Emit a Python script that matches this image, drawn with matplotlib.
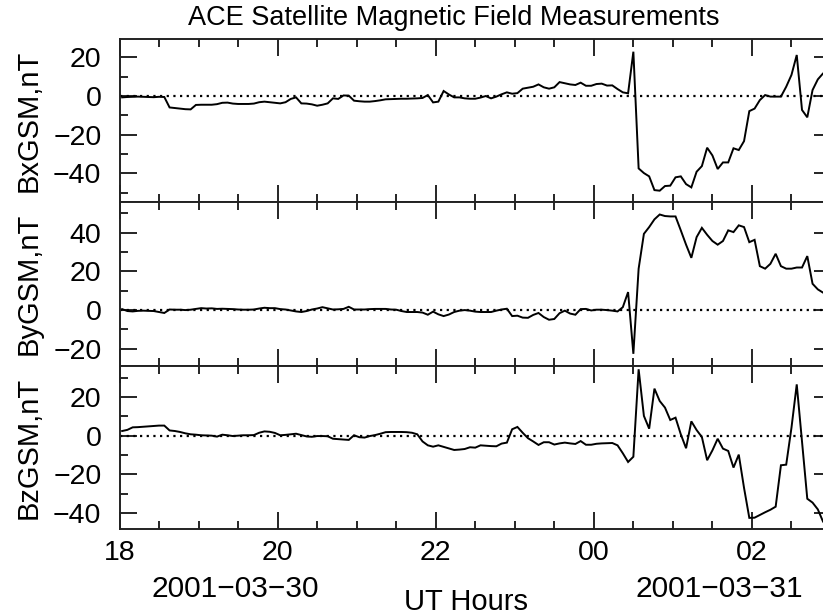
import numpy as np
import pandas as pd
import matplotlib
matplotlib.use("Agg")
import matplotlib.pyplot as plt
import matplotlib.dates as mdates
from matplotlib.ticker import MultipleLocator

plt.rcParams['font.family'] = ['Liberation Sans', 'DejaVu Sans']

# 4-minute samples starting 2001-03-30 18:02 UT
times = pd.date_range('2001-03-30 18:02', periods=135, freq='4min')

bx = [-0.7, -0.5, -0.4, -0.3, -0.4, -0.5, -0.6, -0.4, -0.5, -5.9,
      -6.2, -6.5, -6.8, -6.9, -4.6, -4.5, -4.5, -4.5, -4.2, -3.5,
      -3.4, -3.9, -4.1, -4.1, -4.1, -3.9, -3.2, -2.9, -3.2, -3.5,
      -3.8, -3.2, -1.5, -0.7, -3.8, -3.9, -4.3, -5.0, -4.5, -3.8,
      -1.2, -1.5, 0.3, 0.2, -2.4, -2.7, -2.9, -2.9, -2.6, -2.2,
      -1.7, -1.6, -1.5, -1.4, -1.4, -1.3, -1.2, -1.0, 0.5, -3.3,
      -2.9, 2.6, 0.8, -0.7, -0.7, -1.2, -1.4, -1.4, -0.8, 0.0,
      -1.2, -0.3, 0.9, 1.9, 1.2, 1.5, 3.8, 4.3, 4.8, 6.0,
      4.5, 3.8, 4.5, 7.2, 6.6, 6.0, 5.7, 6.9, 5.3, 5.3,
      6.2, 6.4, 5.4, 5.5, 3.6, 1.9, 1.4, 22.9, -37.4, -39.8,
      -41.5, -48.6, -48.9, -46.5, -46.3, -42.0, -41.5, -45.5, -47.2, -39.1,
      -36.2, -26.7, -30.7, -37.7, -34.3, -34.3, -27.0, -27.9, -23.3, -7.8,
      -6.5, -2.1, 0.5, -0.3, -0.3, -0.3, 4.8, 10.9, 21.2, -7.2,
      -11.0, 3.1, 8.6, 11.7, 12.5]

by = [0.5, -0.5, -0.7, -0.4, -0.3, -0.4, -0.5, -1.0, -1.5, 0.3,
      0.2, 0.2, 0.0, 0.2, 0.6, 1.0, 0.8, 0.9, 0.6, 0.7,
      0.6, 0.5, 0.3, 0.2, 0.2, 0.3, 0.8, 1.2, 1.0, 1.0,
      0.5, 0.3, -0.2, -0.7, -1.0, -0.5, 0.3, 0.8, 1.5, 0.9,
      0.3, 0.4, 0.6, 1.7, 0.3, 0.3, 0.3, 0.5, 0.6, 0.6,
      0.6, 0.3, 0.2, -0.5, -1.0, -1.0, -1.0, -1.3, -2.4, -0.8,
      -2.2, -3.1, -2.3, -1.0, -0.3, 0.0, -0.3, -0.8, -1.0, -1.0,
      -1.0, -0.3, 0.3, 0.7, -3.1, -2.9, -3.9, -4.0, -2.5, -1.5,
      -3.6, -5.0, -4.6, -1.6, -0.3, -1.8, -2.4, 0.5, 0.6, -0.2,
      0.2, 0.2, 0.0, -0.3, -0.7, 1.5, 9.3, -22.6, 21.4, 39.4,
      42.9, 46.9, 49.4, 48.6, 48.4, 48.4, 41.2, 33.8, 27.0, 37.7,
      42.5, 38.9, 35.7, 33.8, 35.7, 41.2, 40.3, 43.8, 42.9, 35.1,
      36.3, 22.7, 21.4, 23.9, 29.1, 22.7, 21.4, 21.4, 22.0, 22.0,
      27.9, 13.6, 10.7, 9.0, 8.5]

bz = [2.4, 3.0, 4.3, 4.4, 4.6, 4.8, 5.0, 5.2, 5.2, 2.7,
      2.4, 1.9, 1.2, 0.7, 0.5, 0.2, 0.1, 0.0, -0.5, 0.5,
      0.2, -0.2, 0.0, 0.2, 0.2, 0.3, 1.5, 2.2, 2.0, 1.4,
      0.2, 0.4, 0.7, 1.0, 0.3, -0.4, -0.6, -0.2, -0.2, -0.3,
      -1.6, -1.8, -2.0, -2.2, 0.2, -0.8, -1.0, -0.2, 0.3, 1.0,
      1.8, 1.9, 1.9, 1.9, 1.8, 1.5, 0.7, -3.0, -5.0, -5.7,
      -5.0, -5.8, -6.6, -7.4, -7.2, -6.9, -6.0, -6.2, -5.0, -5.2,
      -5.4, -5.5, -4.1, -3.6, 3.3, 4.5, 1.5, -1.3, -3.0, -4.8,
      -3.4, -3.4, -4.6, -4.0, -3.6, -4.0, -4.3, -2.8, -4.7, -4.7,
      -4.2, -4.0, -3.9, -3.8, -5.0, -9.1, -13.6, -10.9, 34.3, 10.2,
      3.6, 24.3, 17.9, 14.5, 8.1, 9.3, 0.7, -6.5, 7.4, 2.9,
      -0.7, -12.7, -7.6, -1.6, -6.7, -7.9, -16.5, -9.8, -27.0, -42.5,
      -42.4, -41.0, -39.6, -38.3, -36.7, -15.3, -15.0, 4.1, 26.5, -3.0,
      -32.6, -34.6, -38.1, -44.5, -47.0]

series = [bx, by, bz]
ylabels = ['BxGSM,nT', 'ByGSM,nT', 'BzGSM,nT']
ylims = [(-55.0, 29.2), (-28.9, 55.6), (-48.4, 36.0)]
xstart = pd.Timestamp('2001-03-30 18:00')
xend = pd.Timestamp('2001-03-31 03:00')
date_labels = ['2001\u221203\u221230', '2001\u221203\u221231']

W, H = 823, 616
fig = plt.figure(figsize=(W / 100, H / 100), dpi=100)

left = 119.5 / W
width = 711.5 / W
bounds = [(39.5, 202.5), (202.5, 366.0), (366.0, 529.3)]

axes = []
for i, (top, bot) in enumerate(bounds):
    ax = fig.add_axes([left, 1 - bot / H, width, (bot - top) / H])
    ax.plot(times, series[i], color='black', lw=1.4, solid_joinstyle='miter')
    ax.axhline(0, color='black', lw=1.6, ls=(0, (1, 2.0)))
    ax.set_xlim(xstart, xend)
    ax.set_ylim(*ylims[i])
    ax.yaxis.set_major_locator(MultipleLocator(20))
    ax.yaxis.set_minor_locator(MultipleLocator(10))
    ax.xaxis.set_major_locator(mdates.HourLocator(byhour=range(0, 24, 2)))
    ax.xaxis.set_minor_locator(mdates.MinuteLocator(byminute=[0, 30]))
    ax.xaxis.set_major_formatter(mdates.DateFormatter('%H'))
    ax.tick_params(which='both', direction='in', top=True, right=True,
                   color='black', width=1.2)
    ax.tick_params(which='major', length=12)
    ax.tick_params(which='minor', length=6)
    ax.tick_params(axis='y', which='major', labelsize=20.5, pad=13)
    ax.tick_params(axis='x', which='major', labelsize=20.5, pad=8)
    for sp in ax.spines.values():
        sp.set_linewidth(1.4)
        sp.set_color('#222222')
    ax.set_ylabel(ylabels[i], fontsize=21)
    ax.yaxis.set_label_coords((43 - 119.5) / 711.5, 0.5)
    if i < 2:
        ax.tick_params(axis='x', labelbottom=False)
    axes.append(ax)

ax3 = axes[2]
ax3.text((235 - 119.5) / 711.5, (529.3 - 589) / 163.3, date_labels[0],
         transform=ax3.transAxes, ha='center', va='center', fontsize=21.5)
ax3.text((719 - 119.5) / 711.5, (529.3 - 589) / 163.3, date_labels[1],
         transform=ax3.transAxes, ha='center', va='center', fontsize=21.5)
ax3.text((466 - 119.5) / 711.5, (529.3 - 602) / 163.3, 'UT Hours',
         transform=ax3.transAxes, ha='center', va='center', fontsize=21)

fig.text(454 / W, 1 - 18 / H, 'ACE Satellite Magnetic Field Measurements',
         ha='center', va='center', fontsize=19.5)

fig.savefig('out.png', dpi=100)
